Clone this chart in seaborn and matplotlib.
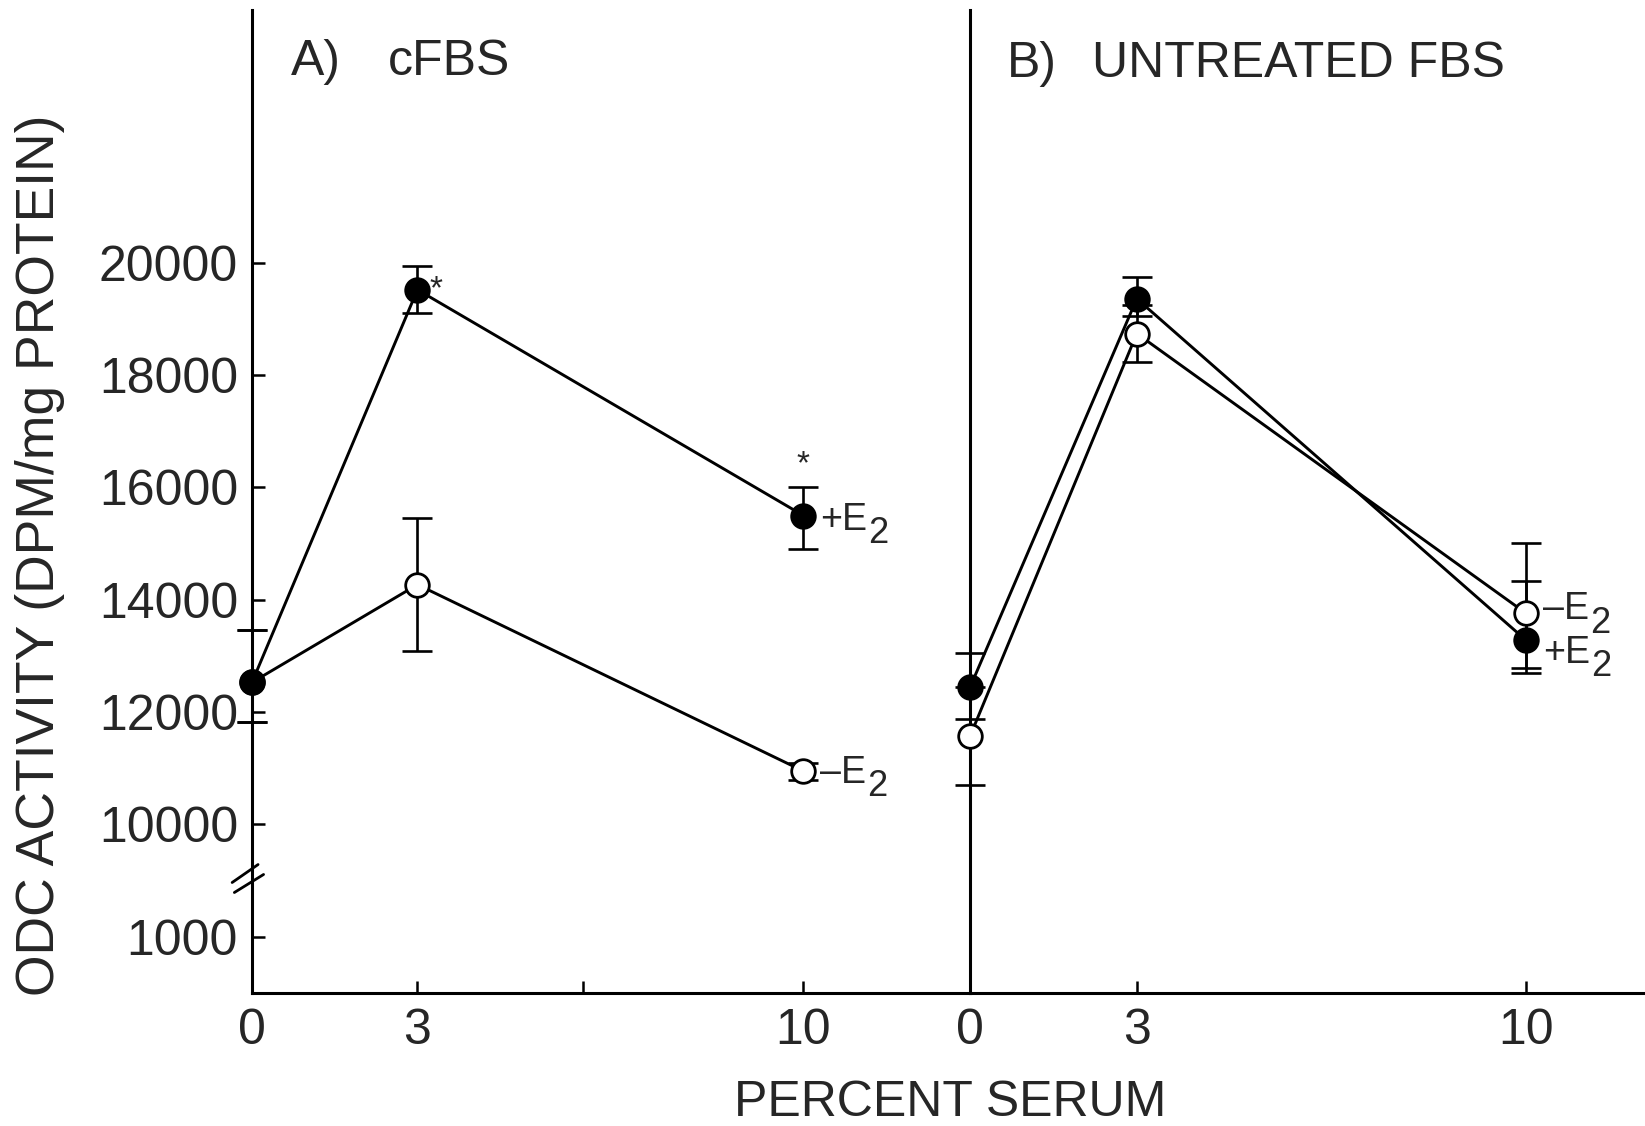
import matplotlib
matplotlib.use("Agg")
import matplotlib.pyplot as plt
import seaborn as sns
import numpy as np

# ODC activity (DPM/mg protein) vs percent serum, mean with SE bars
serum = [0, 3, 10]

# A) charcoal-stripped FBS
a_plus = [12530, 19520, 15500]
a_plus_lo = [710, 420, 600]
a_plus_hi = [940, 420, 500]
a_minus = [12530, 14270, 10950]
a_minus_lo = [710, 1180, 150]
a_minus_hi = [940, 1180, 150]

# B) untreated FBS
b_plus = [12440, 19360, 13280]
b_plus_lo = [570, 300, 500]
b_plus_hi = [620, 390, 1050]
b_minus = [11570, 18740, 13760]
b_minus_lo = [870, 500, 1070]
b_minus_hi = [870, 500, 1260]

# y axis: broken below 10000, the low tick stands for 1000
y_ticks = [8000, 10000, 12000, 14000, 16000, 18000, 20000]
y_ticklabels = ["1000", "10000", "12000", "14000", "16000", "18000", "20000"]

sns.set_theme(style="white")
plt.rcParams["font.family"] = ["Liberation Sans", "DejaVu Sans"]

W, H = 1645, 1126
fig = plt.figure(figsize=(W / 100, H / 100), dpi=100)
left, mid, right = 252 / W, 970 / W, 1.0
bottom, top = 1 - 993 / H, 1 - 10 / H
axA = fig.add_axes([left, bottom, mid - left, top - bottom])
axB = fig.add_axes([mid, bottom, right - mid, top - bottom])

LW = 2.1
MS = 17
TICK_FS = 36

def draw_panel(ax, plus, plo, phi, minus, mlo, mhi):
    for vals, lo, hi in ((minus, mlo, mhi), (plus, plo, phi)):
        eb = ax.errorbar(serum, vals, yerr=[lo, hi], fmt="none", ecolor="black",
                         elinewidth=1.9, capsize=11, capthick=1.9, zorder=2)
        for child in eb.get_children():
            child.set_clip_on(False)
    sns.lineplot(x=serum, y=minus, ax=ax, color="black", lw=LW, marker="o",
                 markersize=MS, markerfacecolor="white", markeredgecolor="black",
                 markeredgewidth=2.0, zorder=3, clip_on=False)
    sns.lineplot(x=serum, y=plus, ax=ax, color="black", lw=LW, marker="o",
                 markersize=MS, markerfacecolor="black", markeredgecolor="black",
                 markeredgewidth=2.0, zorder=4, clip_on=False)

draw_panel(axA, a_plus, a_plus_lo, a_plus_hi, a_minus, a_minus_lo, a_minus_hi)
draw_panel(axB, b_plus, b_plus_lo, b_plus_hi, b_minus, b_minus_lo, b_minus_hi)

for ax in (axA, axB):
    ax.set_ylim(7000, 24500)
    ax.set_facecolor("none")
    for s in ("top", "right"):
        ax.spines[s].set_visible(False)
    for s in ("left", "bottom"):
        ax.spines[s].set_color("black")
        ax.spines[s].set_linewidth(2.2)
        ax.spines[s].set_zorder(1)
    ax.tick_params(axis="x", direction="in", length=9, width=1.8, color="black",
                   labelsize=TICK_FS, pad=11, bottom=True)

axA.set_xlim(0, 13.02)
axB.set_xlim(0, 12.14)

axA.set_xticks([0, 3, 6, 10])
axA.set_xticklabels(["0", "3", "", "10"])
axB.set_xticks([0, 3, 10])
axB.set_xticklabels(["0", "3", "10"])

axA.set_yticks(y_ticks)
axA.set_yticklabels(y_ticklabels)
axA.tick_params(axis="y", direction="in", length=9, width=1.8, color="black",
                labelsize=TICK_FS, pad=10, left=True)
axB.set_yticks([])

# axis break marks on the left spine
for y0, y1, x0, x1 in [(8967, 9287, -0.36, 0.11), (8789, 9110, -0.32, 0.21)]:
    axA.plot([x0, x1], [y0, y1], color="black", lw=2.0, clip_on=False, zorder=5)

# series labels (+E2 / -E2) beside the 10% points
def series_label(ax, x, y, sign, dy):
    main = ax.annotate(sign + "E", xy=(x, y), xytext=(12, dy), textcoords="offset points",
                       ha="left", va="center", fontsize=27)
    ax.annotate("2", xy=(1.0, 0.5), xycoords=main, xytext=(1, -10),
                textcoords="offset points", ha="left", va="center", fontsize=26)

series_label(axA, serum[2], a_plus[2], "+", -3)
series_label(axA, serum[2], a_minus[2], "\u2013", -1)
series_label(axB, serum[2], b_minus[2], "\u2013", 3)
series_label(axB, serum[2], b_plus[2], "+", -9)

# significance marks
axA.annotate("*", xy=(serum[1], a_plus[1]), xytext=(9, 0), textcoords="offset points",
             ha="left", va="center", fontsize=24)
axA.annotate("*", xy=(serum[2], a_plus[2] + a_plus_hi[2]), xytext=(0, 5),
             textcoords="offset points", ha="center", va="bottom", fontsize=24)

# panel titles
axA.text((291 - 252) / 718, (993 - 62) / 983, "A)", transform=axA.transAxes,
         ha="left", va="center", fontsize=36)
axA.text((388 - 252) / 718, (993 - 62) / 983, "cFBS", transform=axA.transAxes,
         ha="left", va="center", fontsize=36)
axB.text((1007 - 970) / 675, (993 - 64) / 983, "B)", transform=axB.transAxes,
         ha="left", va="center", fontsize=36)
axB.text((1092 - 970) / 675, (993 - 64) / 983, "UNTREATED FBS", transform=axB.transAxes,
         ha="left", va="center", fontsize=36)

fig.text(40 / W, 1 - 555 / H, "ODC ACTIVITY (DPM/mg PROTEIN)", rotation=90,
         ha="center", va="center", fontsize=38.5)
fig.text(950 / W, 1 - 1103 / H, "PERCENT SERUM", ha="center", va="center", fontsize=36)

fig.savefig("out.png", dpi=100, facecolor="white")
